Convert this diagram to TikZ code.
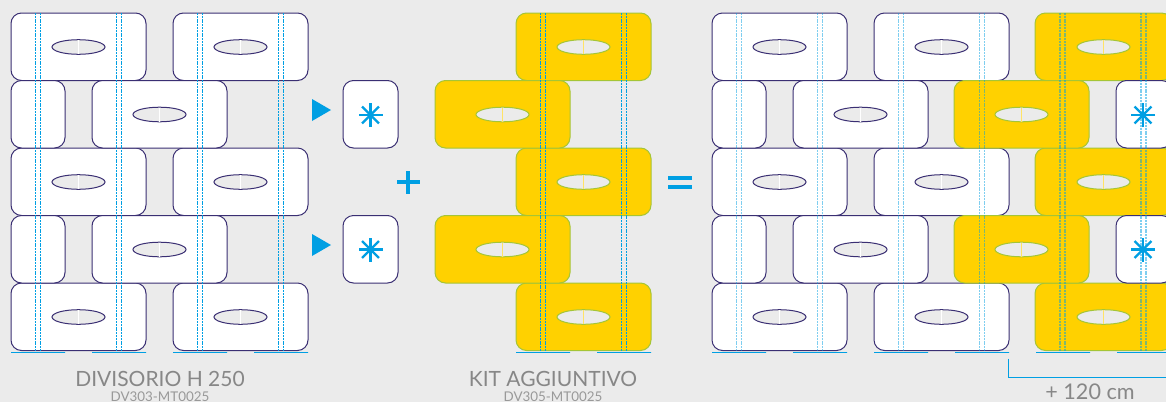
\documentclass[tikz,border=0pt]{standalone}
\usepackage{fontspec}
\setmainfont{Lato}
\usetikzlibrary{calc}
\definecolor{bgc}{HTML}{EBEBEB}
\definecolor{navy}{HTML}{3A2F73}
\definecolor{cy}{HTML}{009FE3}
\definecolor{yel}{HTML}{FFD100}
\definecolor{grn}{HTML}{A5C536}
\definecolor{gtx}{HTML}{878787}
\tikzset{x=1pt,y=-1pt,
 wb/.style={fill=white,draw=navy,line width=1pt,rounded corners=10.5pt},
 yb/.style={fill=yel,draw=grn,line width=1pt,rounded corners=10.5pt},
 wh/.style={fill=bgc,draw=navy,line width=1pt},
 yh/.style={fill=bgc,draw=grn,line width=1pt},
 dl/.style={draw=cy,line width=0.8pt,dash pattern=on 2pt off 0.8pt},
 dll/.style={draw=cy,draw opacity=0.5,line width=1.3pt,dash pattern=on 2pt off 0.8pt},
 bd/.style={draw=cy,line width=1.5pt,dash pattern=on 1.6pt off 0.4pt},
 aster/.style={draw=cy,line width=2.4pt},
 big/.style={inner sep=0,text=gtx,font=\fontsize{21}{21}\selectfont},
 sml/.style={inner sep=0,text=gtx!85!white,font=\fontsize{13.4}{13.4}\selectfont}}
\newcommand{\blk}[4]{% style x1 x2 row
 \pgfmathsetmacro{\ya}{13+67.5*(#4)}
 \draw[#1] (#2,\ya) rectangle (#3,\ya+67.5);
}
\newcommand{\hol}[4]{% style linecol cx row
 \pgfmathsetmacro{\yc}{47+67.5*(#4)}
 \draw[#1] (#3,\yc) ellipse (26.5 and 7.3);
 \draw[#2,line width=0.3pt] (#3,\yc-7) -- (#3,\yc+7);
}
\newcommand{\dls}[2]{\foreach \q in {#2}{\draw[#1] (\q,13) -- (\q,351);\draw[#1] (\q+5,13) -- (\q+5,351);}}
\newcommand{\btm}[2]{\draw[bd] (#1,352.6) -- (#2,352.6);}
\newcommand{\asterk}[2]{\foreach \a in {0,45,90,135}{\draw[aster] ($(#1,#2)+(\a:12)$) -- ($(#1,#2)+(\a+180:12)$);}}
\begin{document}
\begin{tikzpicture}
\useasboundingbox (0,0) rectangle (1166,402);
\fill[bgc] (0,0) rectangle (1166,402);
\clip (0,0) rectangle (1166,402);
\foreach \ox in {0,701}{
 \foreach \r in {0,2,4}{
  \pgfmathsetmacro{\xa}{11+\ox}\pgfmathsetmacro{\xb}{146+\ox}\pgfmathsetmacro{\xc}{173+\ox}\pgfmathsetmacro{\xd}{308+\ox}
  \pgfmathsetmacro{\xe}{78.5+\ox}\pgfmathsetmacro{\xf}{240.5+\ox}
  \blk{wb}{\xa}{\xb}{\r}\blk{wb}{\xc}{\xd}{\r}
  \hol{wh}{white}{\xe}{\r}\hol{wh}{white}{\xf}{\r}
 }
 \foreach \r in {1,3}{
  \pgfmathsetmacro{\xa}{11+\ox}\pgfmathsetmacro{\xb}{65+\ox}\pgfmathsetmacro{\xc}{92+\ox}\pgfmathsetmacro{\xd}{227+\ox}
  \pgfmathsetmacro{\xe}{159.5+\ox}
  \blk{wb}{\xa}{\xb}{\r}\blk{wb}{\xc}{\xd}{\r}
  \hol{wh}{white}{\xe}{\r}
 }
}
\dls{dl}{35.5,116.5,197.5,278.5}
\foreach \a/\b in {11/65,92/146,173/227,254/308}{\btm{\a}{\b}}
\foreach \r/\ym/\yt in {1/115/110,3/249.5/245}{
 \blk{wb}{343}{398}{\r}
 \asterk{370.5}{\ym}
 \fill[cy] (312,\yt-11) -- (331,\yt) -- (312,\yt+11) -- cycle;
}
\fill[cy] (396.5,179.7) rectangle (419.5,184.3);
\fill[cy] (405.7,170.5) rectangle (410.3,193.5);
\fill[cy] (668,175.5) rectangle (692,180.2);
\fill[cy] (668,184.5) rectangle (692,189.2);
\foreach \r in {0,2,4}{\blk{yb}{516}{651}{\r}\hol{yh}{yel!60!white}{583.5}{\r}}
\foreach \r in {1,3}{\blk{yb}{435}{570}{\r}\hol{yh}{yel!60!white}{502.5}{\r}}
\dls{dl}{540.5,621.5}
\foreach \a/\b in {516/570,597/651}{\btm{\a}{\b}}
\foreach \r in {0,2,4}{\blk{yb}{1035}{1172}{\r}\hol{yh}{yel!60!white}{1103.5}{\r}}
\foreach \r in {1,3}{\blk{yb}{954}{1089}{\r}\hol{yh}{yel!60!white}{1021.5}{\r}\blk{wb}{1116}{1172}{\r}}
\dls{dll}{736.5,817.5,898.5,979.5,1060,1141}
\foreach \a/\b in {712/766,793/847,874/928,955/1009,1036/1090,1117/1166}{\btm{\a}{\b}}
\asterk{1143}{115}
\asterk{1143}{249.5}
\coordinate (bs) at (1008.5,358.5);
\coordinate (bc) at (1008.5,377.5);
\coordinate (be) at (1166,377.5);
\draw[cy,line width=0.8pt] (bs) -- (bc) -- (be);
\node[big] (t1) at (160,378.5) {DIVISORIO H 250};
\node[sml] (s1) at (160,396.3) {DV303-MT0025};
\node[big] (t2) at (553,378.5) {KIT AGGIUNTIVO};
\node[sml] (s2) at (553,396.3) {DV305-MT0025};
\node[big,font=\fontsize{21.6}{21.6}\selectfont] (t3) at (1090,391.5) {+ 120 cm};
\end{tikzpicture}
\end{document}
